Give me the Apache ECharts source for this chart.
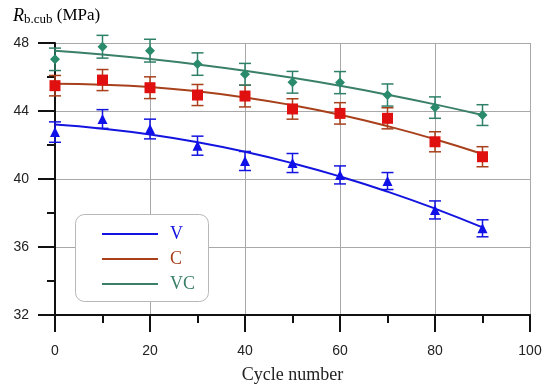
<!DOCTYPE html>
<html><head><meta charset="utf-8">
<script src="https://cdn.jsdelivr.net/npm/echarts@6/dist/echarts.min.js"></script>
<style>html,body{margin:0;padding:0;background:#fff}#c{width:550px;height:391px}</style>
</head><body><div id="c"></div>
<script>
const cycles = [0,10,20,30,40,50,60,70,80,90];
const vMean = [42.76,43.53,42.94,41.96,41.06,40.94,40.24,39.88,38.18,37.10];
const vErr  = [0.60,0.55,0.58,0.56,0.56,0.56,0.53,0.50,0.53,0.50];
const vFit  = [43.20,42.96,42.62,42.16,41.60,40.93,40.15,39.26,38.26,37.15];
const cMean = [45.49,45.82,45.37,44.94,44.88,44.12,43.86,43.57,42.19,41.31];
const cErr  = [0.60,0.62,0.64,0.62,0.64,0.60,0.63,0.62,0.59,0.59];
const cFit  = [45.60,45.55,45.41,45.15,44.80,44.34,43.78,43.11,42.34,41.47];
const vcMean = [47.04,47.78,47.55,46.76,46.16,45.69,45.67,44.94,44.20,43.76];
const vcErr  = [0.66,0.67,0.67,0.66,0.64,0.64,0.65,0.65,0.63,0.61];
const vcFit  = [47.55,47.33,47.06,46.74,46.37,45.95,45.48,44.96,44.39,43.76];
const seriesNames = ['V','C','VC'];
const xTicks = [0,20,40,60,80,100];
const yTicks = [32,36,40,44,48];

const lineCol = ['#1414e0','#a8401c','#3a8068'];
const markCol = ['#1010e8','#e01010','#2a8a6c'];
const errCol  = ['#1414e0','#a8401c','#2f8068'];
const symbols = ['triangle','rect','diamond'];
const symSizes = [10,11,10];
const means = [vMean,cMean,vcMean], errs=[vErr,cErr,vcErr], fits=[vFit,cFit,vcFit];

const series = [];
for (let k=0;k<3;k++){
  series.push({name:seriesNames[k], type:'line', smooth:true, symbol:'none',
    data:cycles.map((x,i)=>[x,fits[k][i]]), lineStyle:{color:lineCol[k],width:2},
    itemStyle:{color:lineCol[k]}, z:3});
  series.push({type:'custom', data:cycles.map((x,i)=>[x,means[k][i]-errs[k][i],means[k][i]+errs[k][i]]),
    renderItem:function(params,api){
      const lo=api.coord([api.value(0),api.value(1)]);
      const hi=api.coord([api.value(0),api.value(2)]);
      const w=6;
      return {type:'group',children:[
        {type:'line',shape:{x1:lo[0],y1:lo[1],x2:hi[0],y2:hi[1]},style:{stroke:errCol[k],lineWidth:1.5}},
        {type:'line',shape:{x1:lo[0]-w,y1:lo[1],x2:lo[0]+w,y2:lo[1]},style:{stroke:errCol[k],lineWidth:1.5}},
        {type:'line',shape:{x1:hi[0]-w,y1:hi[1],x2:hi[0]+w,y2:hi[1]},style:{stroke:errCol[k],lineWidth:1.5}}
      ]};
    }, z:4, silent:true});
  series.push({type:'scatter', symbol:symbols[k], symbolSize:symSizes[k],
    data:cycles.map((x,i)=>[x,means[k][i]]), itemStyle:{color:markCol[k],opacity:1}, z:5});
}

const chart = echarts.init(document.getElementById('c'),null,{renderer:'canvas'});
chart.setOption({
  animation:false,
  grid:{left:55,right:20,top:43,bottom:76},
  xAxis:{type:'value',min:0,max:100,interval:20,
    name:'Cycle number',nameLocation:'middle',nameGap:51,
    nameTextStyle:{fontFamily:'Liberation Serif',fontSize:18,color:'#222'},
    axisLine:{lineStyle:{color:'#111',width:2}},
    axisTick:{length:17,lineStyle:{color:'#111',width:2}},
    minorTick:{show:true,splitNumber:2,length:8,lineStyle:{color:'#111',width:2}},
    splitLine:{show:true,lineStyle:{color:'#a8a8a8',width:1}},
    axisLabel:{margin:29,fontFamily:'Liberation Sans',fontSize:14,color:'#222',
      formatter:v=>xTicks.includes(v)?String(v):''}},
  yAxis:{type:'value',min:32,max:48,interval:4,
    axisLine:{show:true,lineStyle:{color:'#111',width:2}},
    axisTick:{show:true,length:17,lineStyle:{color:'#111',width:2}},
    minorTick:{show:true,splitNumber:2,length:8,lineStyle:{color:'#111',width:2}},
    splitLine:{show:true,lineStyle:{color:'#a8a8a8',width:1}},
    axisLabel:{margin:26,fontFamily:'Liberation Sans',fontSize:14,color:'#222',
      formatter:v=>yTicks.includes(v)?String(v):''}},
  legend:{orient:'vertical',left:97,top:220,itemWidth:56,itemHeight:2,itemGap:7,z:20,
    icon:'rect',
    data:seriesNames.map((n,k)=>({name:n,textStyle:{color:lineCol[k]}})),
    textStyle:{fontFamily:'Liberation Serif',fontSize:18,padding:[0,0,0,7]}},
  graphic:[
    {type:'rect',left:75,top:214,shape:{width:133,height:87,r:9},
      style:{fill:'#fff',stroke:'#b8b8b8',lineWidth:1},z:2},
    {type:'text',left:13,top:7,style:{
      text:'{r|R}{s|b.cub}{n| (MPa)}',
      rich:{r:{fontFamily:'Liberation Serif',fontStyle:'italic',fontSize:18,color:'#222'},
            s:{fontFamily:'Liberation Serif',fontSize:13,color:'#222',padding:[8,0,0,0]},
            n:{fontFamily:'Liberation Serif',fontSize:17,color:'#222'}}}}
  ],
  series:series
});
</script></body></html>
